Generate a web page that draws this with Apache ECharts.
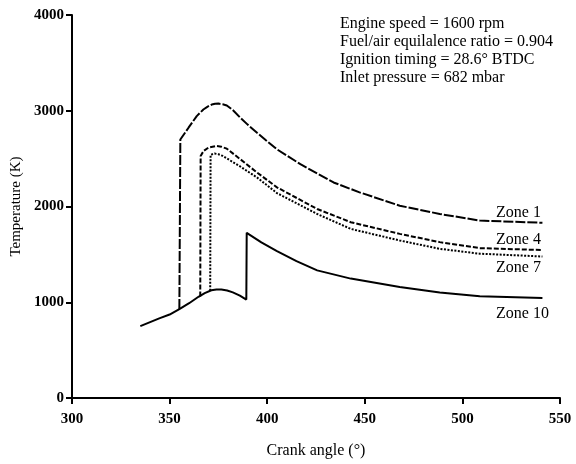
<!DOCTYPE html>
<html><head><meta charset="utf-8">
<script src="https://cdn.jsdelivr.net/npm/echarts@6/dist/echarts.min.js"></script>
<style>html,body{margin:0;padding:0;background:#fff}#c{width:576px;height:464px}</style>
</head><body><div id="c"></div>
<script>
const zone1 = [[355,930],[355.5,2700],[359.7,2823],[363.9,2944],[367.3,3013],[369.5,3043],[371.6,3065],[373.3,3073],[375,3075],[377.2,3068],[379.3,3055],[382.5,3005],[386.2,2927],[390,2855],[394.8,2771],[399.5,2690],[405,2597],[417,2442],[434,2251],[447.3,2148],[467.9,2008],[488.4,1922],[508.9,1853],[541,1830]];
const zone4 = [[365.7,1060],[365.9,2528],[367.4,2580],[369.9,2615],[373.8,2632],[376.5,2625],[379.3,2604],[386.2,2494],[394.8,2355],[405,2200],[425.6,1974],[442.8,1836],[467.9,1714],[488.4,1628],[508.9,1565],[541,1545]];
const zone7 = [[370.8,1120],[371,2540],[373,2553],[375,2546],[377.2,2528],[385.7,2424],[394.8,2303],[405,2140],[425.6,1922],[442.8,1766],[467.9,1645],[488.4,1558],[508.9,1507],[541,1478]];
const zone10 = [[335,750],[344.7,831],[350,872],[355,928],[360,990],[364.8,1057],[368,1095],[371.4,1125],[374,1133],[376.5,1133],[379.5,1122],[382.4,1103],[386,1070],[389.3,1028],[389.5,1725],[397,1625],[405,1534],[415,1430],[425.6,1333],[442.8,1247],[467.9,1160],[488.4,1101],[508.9,1062],[541,1045]];
const zoneNames = ['Zone 1','Zone 4','Zone 7','Zone 10'];
const infoLines = ['Engine speed = 1600 rpm','Fuel/air equilalence ratio = 0.904','Ignition timing = 28.6\u00b0 BTDC','Inlet pressure = 682 mbar'];
const xTicks = [300,350,400,450,500,550];
const yTicks = [0,1000,2000,3000,4000];

const font = 'Liberation Serif';
const chart = echarts.init(document.getElementById('c'), null, {renderer:'canvas'});
const mk = (name, data, type) => ({
  name, type:'line', data, showSymbol:false, symbol:'none', animation:false,
  lineStyle:{color:'#000', width:2, type}
});
const txtFont = '16px "Liberation Serif"';
chart.setOption({
  backgroundColor:'#fff',
  animation:false,
  grid:{left:72, right:16, top:15, bottom:64},
  xAxis:{type:'value', min:xTicks[0], max:xTicks[xTicks.length-1], interval:50,
    name:'Crank angle (\u00b0)', nameLocation:'middle', nameGap:45,
    nameTextStyle:{fontFamily:font, fontSize:16, color:'#000'},
    axisLine:{onZero:false, lineStyle:{color:'#000', width:2}},
    axisTick:{length:6, lineStyle:{color:'#000', width:2}},
    axisLabel:{fontFamily:font, fontSize:15, fontWeight:'bold', color:'#000', margin:14},
    splitLine:{show:false}},
  yAxis:{type:'value', min:yTicks[0], max:yTicks[yTicks.length-1], interval:1000,
    name:'Temperature (K)', nameLocation:'middle', nameGap:48,
    nameTextStyle:{fontFamily:font, fontSize:15, color:'#000'},
    axisLine:{show:true, lineStyle:{color:'#000', width:2}},
    axisTick:{show:true, length:6, lineStyle:{color:'#000', width:2}},
    axisLabel:{fontFamily:font, fontSize:15, fontWeight:'bold', color:'#000', margin:8,
      formatter:v=>String(v)},
    splitLine:{show:false}},
  series:[
    mk(zoneNames[0], zone1, [10,2]),
    mk(zoneNames[1], zone4, [5,2]),
    mk(zoneNames[2], zone7, [2,1.5]),
    mk(zoneNames[3], zone10, 'solid')
  ],
  graphic:[
    ...infoLines.map((t,i)=>({type:'text', left:340, top:16+i*18,
      style:{text:t, font:txtFont, fill:'#000'}})),
    {type:'text', left:496, top:205, style:{text:zoneNames[0], font:txtFont, fill:'#000'}},
    {type:'text', left:496, top:232, style:{text:zoneNames[1], font:txtFont, fill:'#000'}},
    {type:'text', left:496, top:260, style:{text:zoneNames[2], font:txtFont, fill:'#000'}},
    {type:'text', left:496, top:306, style:{text:zoneNames[3], font:txtFont, fill:'#000'}}
  ]
});
</script></body></html>
